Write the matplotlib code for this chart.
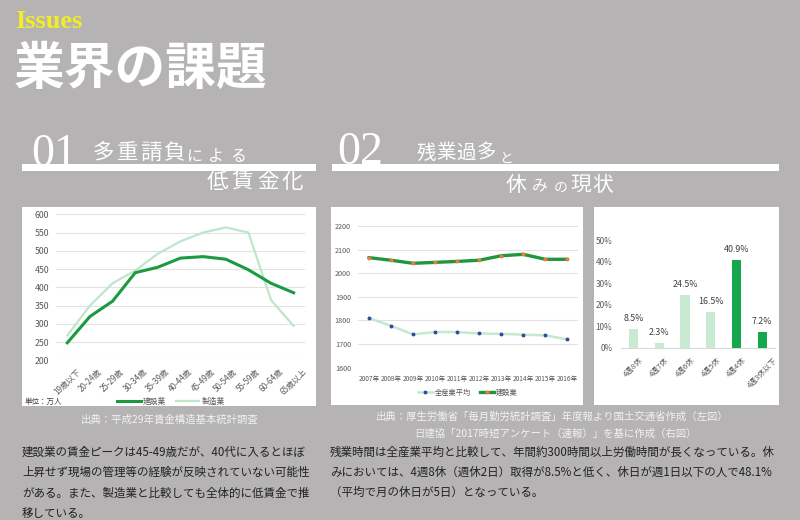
import matplotlib
matplotlib.use("Agg")
import matplotlib.pyplot as plt
from matplotlib.patches import Rectangle
from matplotlib.lines import Line2D

plt.rcParams['font.family'] = ['Noto Sans CJK JP', 'DejaVu Sans']

# ---------------- data ----------------
age_labels = ['19歳以下', '20-24歳', '25-29歳', '30-34歳', '35-39歳', '40-44歳',
              '45-49歳', '50-54歳', '55-59歳', '60-64歳', '65歳以上']
wage_construction = [248, 320, 362, 440, 455, 480, 484, 477, 448, 411, 385]
wage_manufacturing = [268, 350, 411, 446, 492, 526, 550, 564, 550, 365, 294]
wage_yticks = [200, 250, 300, 350, 400, 450, 500, 550, 600]

years = ['2007年', '2008年', '2009年', '2010年', '2011年', '2012年',
         '2013年', '2014年', '2015年', '2016年']
hours_all = [1810, 1777, 1741, 1751, 1751, 1745, 1743, 1740, 1737, 1720]
hours_construction = [2066, 2055, 2042, 2046, 2050, 2055, 2074, 2080, 2059, 2059]
hours_yticks = [1600, 1700, 1800, 1900, 2000, 2100, 2200]

holiday_labels = ['4週8休', '4週7休', '4週6休', '4週5休', '4週4休', '4週3休以下']
holiday_share = [8.5, 2.3, 24.5, 16.5, 40.9, 7.2]
holiday_yticks = [0, 10, 20, 30, 40, 50]

# ---------------- style ----------------
BG = '#b5b3b4'
DARK = '#1a9b41'
LIGHT = '#bfe5cb'
TICK = '#595959'
GRID = '#e3e3e3'

W, H = 800, 520
fig = plt.figure(figsize=(8, 5.2), dpi=100, facecolor=BG)

bg = fig.add_axes([0, 0, 1, 1], zorder=0)
bg.set_xlim(0, W)
bg.set_ylim(H, 0)
bg.axis('off')


def ax_px(x0, y0, x1, y1):
    return fig.add_axes([x0 / W, 1 - y1 / H, (x1 - x0) / W, (y1 - y0) / H], zorder=2)


def spaced(chars, x0, pitch, y, size, **kw):
    for i, c in enumerate(chars):
        bg.text(x0 + pitch * (i + 0.5), y, c, fontsize=size, color='white',
                ha='center', va='center', **kw)


# ---------------- header ----------------
bg.text(15, 28, 'Issues', fontsize=19, color='#f4ec25', family='Liberation Serif',
        weight='bold', ha='left', va='baseline')
bg.text(14, 69, '業界の課題', fontsize=36.5, color='white', weight='bold',
        ha='left', va='center')

# section 01
bg.text(31, 166, '01', fontsize=33, color='white', family='Liberation Serif',
        ha='left', va='baseline')
spaced('多重請負', 92, 23.5, 153, 15.5)
spaced('による', 183, 22.0, 157, 11.5)
spaced('低賃金化', 205, 25.0, 182, 15.5)
bg.add_patch(Rectangle((22, 164), 294, 7, fc='white', ec='none'))

# section 02
bg.text(337, 164, '02', fontsize=33, color='white', family='Liberation Serif',
        ha='left', va='baseline')
spaced('残業過多', 416, 20.0, 153, 14)
spaced('と', 496, 20.0, 159, 10)
bg.text(516, 185, '休', fontsize=15, color='white', ha='center', va='center')
bg.text(540, 187, 'み', fontsize=11.5, color='white', ha='center', va='center')
bg.text(561, 188, 'の', fontsize=10, color='white', ha='center', va='center')
bg.text(581, 185, '現', fontsize=15, color='white', ha='center', va='center')
bg.text(603, 185, '状', fontsize=15, color='white', ha='center', va='center')
bg.add_patch(Rectangle((332, 164), 447, 7, fc='white', ec='none'))

# ---------------- panels ----------------
bg.add_patch(Rectangle((22, 207), 294, 199, fc='white', ec='none'))
bg.add_patch(Rectangle((331, 207), 252, 198, fc='white', ec='none'))
bg.add_patch(Rectangle((594, 207), 185, 198, fc='white', ec='none'))

# ---------------- chart 1 ----------------
ax1 = ax_px(56, 214.3, 305, 360.3)
x1 = list(range(len(age_labels)))
ax1.plot(x1, wage_manufacturing, color=LIGHT, lw=1.6, label='製造業', zorder=3)
ax1.plot(x1, wage_construction, color=DARK, lw=2.2, label='建設業', zorder=4)
ax1.set_xlim(-0.5, len(age_labels) - 0.5)
ax1.set_ylim(200, 600)
ax1.set_yticks(wage_yticks)
ax1.set_xticks(x1)
ax1.set_xticklabels(age_labels, rotation=45, ha='center', va='top')
ax1.tick_params(axis='y', length=0, labelsize=6.3, labelcolor=TICK, pad=5)
ax1.tick_params(axis='x', length=0, labelsize=5.8, labelcolor=TICK, pad=5)
ax1.grid(axis='y', color=GRID, lw=0.8)
ax1.set_axisbelow(True)
for s in ax1.spines.values():
    s.set_visible(False)
ax1.set_facecolor('none')
h1 = [Line2D([], [], color=DARK, lw=2.2), Line2D([], [], color=LIGHT, lw=1.6)]
ax1.legend(h1, ['建設業', '製造業'], loc='center', ncol=2, frameon=False,
           bbox_to_anchor=(171 / W, 1 - 402 / H), bbox_transform=fig.transFigure,
           fontsize=5.6, handlelength=3.0, handletextpad=0.3, columnspacing=1.2,
           labelcolor=TICK)
bg.text(25, 402, '単位：万人', fontsize=5.4, color='#404040', ha='left', va='center')

# ---------------- chart 2 ----------------
ax2 = ax_px(358, 226, 578.3, 367.7)
x2 = list(range(len(years)))
ax2.plot(x2, hours_all, color='#c5e8cf', lw=1.8, marker='o', ms=1.8,
         mfc='#2e4d9c', mec='#2e4d9c', zorder=3)
ax2.plot(x2, hours_construction, color='#22963f', lw=2.4, marker='o', ms=1.8,
         mfc='#ee7b3a', mec='#ee7b3a', zorder=4)
ax2.set_xlim(-0.5, len(years) - 0.5)
ax2.set_ylim(1600, 2200)
ax2.set_yticks(hours_yticks)
ax2.set_xticks(x2)
ax2.set_xticklabels(years)
ax2.tick_params(axis='y', length=0, labelsize=5.2, labelcolor=TICK, pad=5)
ax2.tick_params(axis='x', length=0, labelsize=4.7, labelcolor=TICK, pad=5)
for yv in hours_yticks[1:]:
    ax2.axhline(yv, color=GRID, lw=0.8, zorder=1)
for s in ax2.spines.values():
    s.set_visible(False)
ax2.set_facecolor('none')
h2 = [Line2D([], [], color='#c5e8cf', lw=1.8, marker='o', ms=1.8, mfc='#2e4d9c', mec='#2e4d9c'),
      Line2D([], [], color='#22963f', lw=2.4, marker='o', ms=1.8, mfc='#ee7b3a', mec='#ee7b3a')]
ax2.legend(h2, ['全産業平均', '建設業'], loc='center', ncol=2, frameon=False,
           bbox_to_anchor=(468 / W, 1 - 393 / H), bbox_transform=fig.transFigure,
           fontsize=5.2, handlelength=2.0, handletextpad=0.3, columnspacing=1.2,
           labelcolor=TICK)

# ---------------- chart 3 ----------------
ax3 = ax_px(620.7, 240, 775, 347.7)
x3 = list(range(len(holiday_labels)))
bar_colors = ['#c8e9d2'] * 4 + ['#13a84e'] * 2
ax3.bar(x3, holiday_share, width=0.36, color=bar_colors, zorder=3)
for xi, v in zip(x3, holiday_share):
    ax3.text(xi, v + 2.8, f'{v}%', ha='center', va='bottom', fontsize=6.4,
             color='#404040', clip_on=False)
ax3.set_xlim(-0.5, len(holiday_labels) - 0.5)
ax3.set_ylim(0, 50)
ax3.set_yticks(holiday_yticks)
ax3.set_yticklabels([f'{v}%' for v in holiday_yticks])
ax3.set_xticks(x3)
ax3.set_xticklabels(holiday_labels, rotation=45, ha='center', va='top')
ax3.tick_params(axis='y', length=0, labelsize=5.9, labelcolor=TICK, pad=6)
ax3.tick_params(axis='x', length=0, labelsize=5.5, labelcolor=TICK, pad=6)
for k, s in ax3.spines.items():
    s.set_visible(k == 'bottom')
ax3.spines['bottom'].set_color('#d9d9d9')
ax3.spines['bottom'].set_linewidth(0.8)
ax3.set_facecolor('none')

# ---------------- sources ----------------
SRC = '#f2f2f2'
bg.text(170, 419, '出典：平成29年賃金構造基本統計調査', fontsize=7.5, color=SRC,
        ha='center', va='center')
bg.text(552, 417, '出典：厚生労働省「毎月勤労統計調査」年度報より国土交通省作成（左図）',
        fontsize=7.5, color=SRC, ha='center', va='center')
bg.text(555, 434, '日建協「2017時短アンケート（速報）」を基に作成（右図）',
        fontsize=7.5, color=SRC, ha='center', va='center')

# ---------------- body text ----------------
TXT = '#222222'
left_lines = ['建設業の賃金ピークは45-49歳だが、40代に入るとほぼ',
              '上昇せず現場の管理等の経験が反映されていない可能性',
              'がある。また、製造業と比較しても全体的に低賃金で推',
              '移している。']
for i, ln in enumerate(left_lines):
    bg.text(22, 452 + i * 20.5, ln, fontsize=8.3, color=TXT, ha='left', va='center')
right_lines = ['残業時間は全産業平均と比較して、年間約300時間以上労働時間が長くなっている。休',
               'みにおいては、4週8休（週休2日）取得が8.5%と低く、休日が週1日以下の人で48.1%',
               '（平均で月の休日が5日）となっている。']
for i, ln in enumerate(right_lines):
    bg.text(330, 452 + i * 20, ln, fontsize=8.3, color=TXT, ha='left', va='center')

fig.savefig('out.png', dpi=100, facecolor=BG)
